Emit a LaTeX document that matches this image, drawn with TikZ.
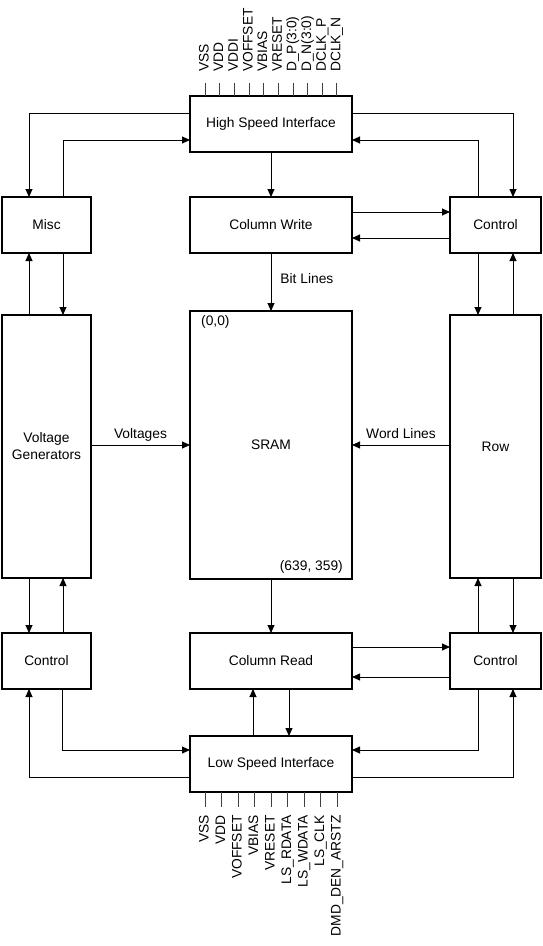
\documentclass[tikz,border=0pt]{standalone}
\usepackage{fontspec}
\setmainfont{Liberation Sans}
\usetikzlibrary{arrows.meta}
\begin{document}
\begin{tikzpicture}[x=1pt,y=-1pt,
  font=\fontsize{13.8}{17}\selectfont,
  box/.style={draw,line width=1.6pt,inner sep=0pt,outer sep=0pt,align=center},
  arr/.style={-{Triangle[length=8pt,width=7pt]},line width=0.9pt},
  pinl/.style={rotate=90,inner sep=0pt,text height=9.8pt,text depth=2.7pt},
  pinline/.style={line width=0.8pt,black!75},
  lbl/.style={inner sep=0pt,text height=9.8pt,text depth=2.7pt}]
\useasboundingbox (0,0) rectangle (542,946);

% blocks
\node[box,minimum width=162pt,minimum height=56pt] (hsi) at (271,124) {High Speed Interface};
\node[box,minimum width=89pt,minimum height=56pt] (misc) at (46.5,225) {Misc};
\node[box,minimum width=162pt,minimum height=56pt] (cw) at (271,225) {Column Write};
\node[box,minimum width=91pt,minimum height=56pt] (ctr) at (495.5,225) {Control};
\node[box,minimum width=89pt,minimum height=263pt] (vg) at (46.5,446.5) {Voltage\\Generators};
\node[box,minimum width=162pt,minimum height=268pt] (sram) at (271,445) {SRAM};
\node[box,minimum width=91pt,minimum height=263pt] (row) at (495.5,446.5) {Row};
\node[box,minimum width=89pt,minimum height=56pt] (cbl) at (46.5,661) {Control};
\node[box,minimum width=162pt,minimum height=56pt] (cr) at (271,661) {Column Read};
\node[box,minimum width=91pt,minimum height=56pt] (cbr) at (495.5,661) {Control};
\node[box,minimum width=162pt,minimum height=56pt] (lsi) at (271,764) {Low Speed Interface};

\node[lbl,anchor=west] (o00) at (201,322) {(0,0)};
\node[lbl,anchor=east] (oend) at (343,567) {(639, 359)};

% top connectors
\draw[arr] ([yshift=11pt]hsi.west) -| ([xshift=-17.5pt]misc.north);
\draw[arr] ([xshift=16.5pt]misc.north) |- ([yshift=-16pt]hsi.west);
\draw[arr] ([yshift=11pt]hsi.east) -| ([xshift=17.5pt]ctr.north);
\draw[arr] ([xshift=-17.5pt]ctr.north) |- ([yshift=-16pt]hsi.east);
\draw[arr] (hsi.south) -- (cw.north);
\draw[arr] ([yshift=13pt]cw.east) -- ([yshift=13pt]ctr.west);
\draw[arr] ([yshift=-13pt]ctr.west) -- ([yshift=-13pt]cw.east);
\draw[arr] (cw.south) -- node[lbl,pos=0.47,anchor=west,xshift=9pt] {Bit Lines} (sram.north);

% misc / control to voltage gen / row
\draw[arr] ([xshift=-17.5pt]vg.north) -- ([xshift=-17.5pt]misc.south);
\draw[arr] ([xshift=16.5pt]misc.south) -- ([xshift=16.5pt]vg.north);
\draw[arr] ([xshift=-17.5pt]ctr.south) -- ([xshift=-17.5pt]row.north);
\draw[arr] ([xshift=17.5pt]row.north) -- ([xshift=17.5pt]ctr.south);

% into SRAM
\draw[arr] (vg.east |- sram.west) -- node[lbl,above=3pt] {Voltages} (sram.west);
\draw[arr] (row.west |- sram.east) -- node[lbl,above=3pt] {Word Lines} (sram.east);
\draw[arr] (sram.south) -- (cr.north);

% lower connections
\draw[arr] ([xshift=-17.5pt]vg.south) -- ([xshift=-17.5pt]cbl.north);
\draw[arr] ([xshift=16.5pt]cbl.north) -- ([xshift=16.5pt]vg.south);
\draw[arr] ([xshift=-17.5pt]cbr.north) -- ([xshift=-17.5pt]row.south);
\draw[arr] ([xshift=17.5pt]row.south) -- ([xshift=17.5pt]cbr.north);
\draw[arr] ([yshift=14pt]cr.east) -- ([yshift=14pt]cbr.west);
\draw[arr] ([yshift=-16pt]cbr.west) -- ([yshift=-16pt]cr.east);
\draw[arr] ([xshift=-18pt]lsi.north) -- ([xshift=-18pt]cr.south);
\draw[arr] ([xshift=18pt]cr.south) -- ([xshift=18pt]lsi.north);
\draw[arr] ([xshift=16pt]cbl.south) |- ([yshift=14pt]lsi.west);
\draw[arr] ([yshift=-13pt]lsi.west) -| ([xshift=-17.5pt]cbl.south);
\draw[arr] ([xshift=-17.5pt]cbr.south) |- ([yshift=14pt]lsi.east);
\draw[arr] ([yshift=-13pt]lsi.east) -| ([xshift=17.5pt]cbr.south);

% top pins
\foreach \t [count=\i from 0] in {VSS,VDD,VDDI,VOFFSET,VBIAS,VRESET,D\_P(3:0),D\_N(3:0),DCLK\_P,DCLK\_N}{
  \node[pinl,anchor=west] (tp\i) at (205+14.65*\i,72) {\t};
  \coordinate (tpc\i) at (205+14.65*\i,83);
  \draw[pinline] (tpc\i) -- (tpc\i |- hsi.north);
}
% bottom pins
\foreach \t [count=\i from 0] in {VSS,VDD,VOFFSET,VBIAS,VRESET,LS\_RDATA,LS\_WDATA,LS\_CLK,DMD\_DEN\_ARSTZ}{
  \node[pinl,anchor=east] (bp\i) at (205+16.5*\i,815) {\t};
  \coordinate (bpc\i) at (205+16.5*\i,807);
  \draw[pinline] (bpc\i |- lsi.south) -- (bpc\i);
}
\end{tikzpicture}
\end{document}
